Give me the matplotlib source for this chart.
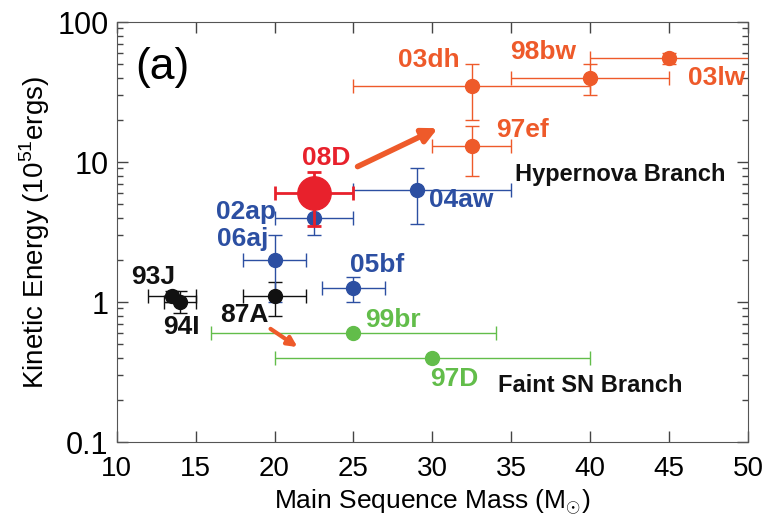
import matplotlib
matplotlib.use("Agg")
import matplotlib.pyplot as plt
from matplotlib.ticker import NullFormatter

plt.rcParams['font.family'] = ['Liberation Sans', 'DejaVu Sans']
plt.rcParams['mathtext.fontset'] = 'custom'
plt.rcParams['mathtext.rm'] = 'Liberation Sans'

# hypernova branch (orange)
hn_names = ['03dh', '97ef', '98bw', '03lw']
hn_mass = [32.5, 32.5, 40, 45]
hn_mass_lo = [7.5, 2.5, 5, 5]
hn_mass_hi = [7.5, 2.5, 5, 10]
hn_E = [35, 13, 40, 55]
hn_E_lo = [15, 5, 10, 5]
hn_E_hi = [15, 5, 10, 5]

# normal SNe Ic (blue)
ic_names = ['02ap', '06aj', '04aw', '05bf']
ic_mass = [22.5, 20, 29, 25]
ic_mass_lo = [2.5, 2, 4, 2]
ic_mass_hi = [2.5, 2, 6, 2]
ic_E = [4, 2, 6.3, 1.25]
ic_E_lo = [1, 1, 2.7, 0.25]
ic_E_hi = [1, 1, 2.7, 0.25]

# normal SNe (black)
sn_names = ['93J', '94I', '87A']
sn_mass = [13.5, 14, 20]
sn_mass_lo = [1.5, 1, 2]
sn_mass_hi = [1.5, 1, 2]
sn_E = [1.1, 1.0, 1.1]
sn_E_lo = [0.1, 0.17, 0.3]
sn_E_hi = [0.1, 0.2, 0.3]

# faint SNe (green)
fs_names = ['99br', '97D']
fs_mass = [25, 30]
fs_mass_err = [9, 10]
fs_E = [0.6, 0.4]

# SN 2008D (red)
d_mass = [22.5]
d_mass_err = [2.5]
d_E = [6.0]
d_E_err = [2.5]

orange = '#ee5a2a'
red = '#e8212c'
blue = '#2c4fa2'
green = '#62bd4a'
black = '#111111'

fig = plt.figure(figsize=(7.68, 5.25), dpi=100)
ax = fig.add_axes([0.152, 0.158, 0.822, 0.800])

ax.errorbar(fs_mass, fs_E, xerr=fs_mass_err, fmt='o', color=green, ms=10,
            elinewidth=1, capsize=5, capthick=1)
ax.errorbar(sn_mass, sn_E, xerr=[sn_mass_lo, sn_mass_hi], yerr=[sn_E_lo, sn_E_hi],
            fmt='o', color=black, ms=10, elinewidth=1, capsize=5, capthick=1)
ax.errorbar(ic_mass, ic_E, xerr=[ic_mass_lo, ic_mass_hi], yerr=[ic_E_lo, ic_E_hi],
            fmt='o', color=blue, ms=10, elinewidth=1, capsize=5, capthick=1)
ax.errorbar(hn_mass, hn_E, xerr=[hn_mass_lo, hn_mass_hi], yerr=[hn_E_lo, hn_E_hi],
            fmt='o', color=orange, ms=10, elinewidth=1, capsize=5, capthick=1)
ax.errorbar(d_mass, d_E, xerr=d_mass_err, yerr=d_E_err, fmt='o', color=red, ms=24,
            elinewidth=2, capsize=5, capthick=2, zorder=5)

# arrows
ax.annotate('', xy=(30.5, 17.8), xytext=(25.1, 9.1),
            arrowprops=dict(arrowstyle='-|>', color=orange, lw=4, mutation_scale=22))
ax.annotate('', xy=(21.6, 0.465), xytext=(19.6, 0.66),
            arrowprops=dict(arrowstyle='-|>', color=orange, lw=3, mutation_scale=14))

lab = dict(fontsize=19, fontweight='bold', ha='center', va='center')
ax.text(29.8, 53.5, '03dh', color=orange, **lab)
ax.text(37.0, 61, '98bw', color=orange, **lab)
ax.text(48.0, 40, '03lw', color=orange, **lab)
ax.text(35.7, 16.9, '97ef', color=orange, **lab)
ax.text(23.3, 10.7, '08D', color=red, **lab)
ax.text(31.8, 5.35, '04aw', color=blue, **lab)
ax.text(18.2, 4.4, '02ap', color=blue, **lab)
ax.text(18.0, 2.8, '06aj', color=blue, **lab)
ax.text(26.5, 1.84, '05bf', color=blue, **lab)
ax.text(12.3, 1.51, '93J', color=black, **lab)
ax.text(14.1, 0.66, '94I', color=black, **lab)
ax.text(18.1, 0.81, '87A', color=black, **lab)
ax.text(27.5, 0.74, '99br', color=green, **lab)
ax.text(31.4, 0.28, '97D', color=green, **lab)
ax.text(41.9, 8.1, 'Hypernova Branch', color=black, fontsize=17, fontweight='bold',
        ha='center', va='center')
ax.text(40.0, 0.255, 'Faint SN Branch', color=black, fontsize=17, fontweight='bold',
        ha='center', va='center')
ax.text(12.9, 47, '(a)', fontsize=32, ha='center', va='center')

ax.set_xlim(10, 50)
ax.set_yscale('log')
ax.set_ylim(0.1, 100)
ax.set_xticks(range(10, 51, 5))
ax.set_yticks([0.1, 1, 10, 100])
ax.set_yticklabels(['0.1', '1', '10', '100'])
ax.yaxis.set_minor_formatter(NullFormatter())
ax.tick_params(which='both', direction='in', top=True, right=True, colors='#444444',
               labelcolor='black')
ax.tick_params(which='major', length=8, width=1)
ax.tick_params(which='minor', length=4, width=1)
ax.tick_params(axis='x', pad=10, labelsize=20)
ax.tick_params(axis='y', pad=6, labelsize=22)
for s in ax.spines.values():
    s.set_color('#555555')

ax.set_xlabel(r'Main Sequence Mass (M$_{\odot}$)', fontsize=19)
ax.set_ylabel(r'Kinetic Energy (10$^{51}$ergs)', fontsize=20, labelpad=4)

fig.savefig('out.png', dpi=100)
